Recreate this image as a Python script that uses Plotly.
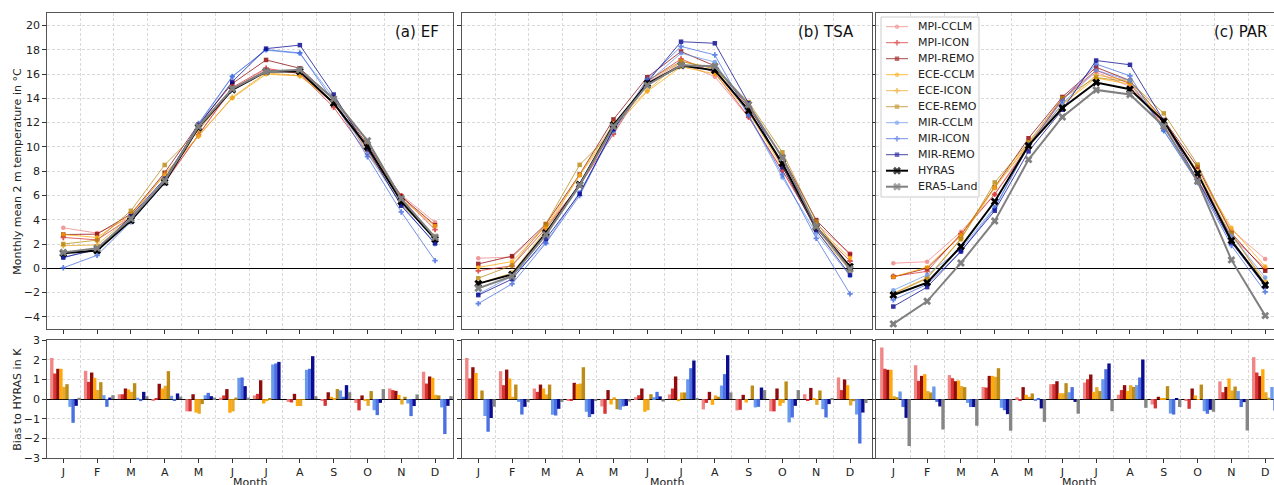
import plotly.graph_objects as go

# ---------------- data ----------------
months = ["J", "F", "M", "A", "M", "J", "J", "A", "S", "O", "N", "D"]
month_num = list(range(1, 13))

model_names = ["MPI-CCLM", "MPI-ICON", "MPI-REMO",
               "ECE-CCLM", "ECE-ICON", "ECE-REMO",
               "MIR-CCLM", "MIR-ICON", "MIR-REMO"]

# HYRAS reference (monthly mean 2 m temperature, degC)
hyras_ef = [1.24, 1.46, 3.93, 7.09, 11.6, 14.7, 16.2, 16.2, 13.6, 10.0, 5.5, 2.4]
hyras_tsa = [-1.26, -0.5, 2.9, 6.9, 11.8, 15.2, 16.7, 16.3, 13.0, 8.65, 3.4, 0.14]
hyras_par = [-2.2, -1.18, 1.79, 5.5, 10.1, 13.2, 15.3, 14.75, 12.1, 7.8, 2.28, -1.37]

# Bias to HYRAS (K) per model, region EF
bias_ef = {
    "MPI-CCLM": [2.09, 1.44, 0.25, -0.08, -0.62, 0.08, 0.19, -0.14, -0.07, -0.19, 0.54, 1.39],
    "MPI-ICON": [1.30, 0.88, 0.25, 0.03, -0.62, 0.19, 0.27, -0.17, -0.34, -0.57, 0.46, 0.79],
    "MPI-REMO": [1.54, 1.35, 0.54, 0.78, 0.25, 0.51, 0.96, 0.27, 0.35, 0.19, 0.42, 1.15],
    "ECE-CCLM": [1.54, 1.08, 0.49, 0.54, -0.68, -0.69, -0.22, -0.35, 0.12, -0.05, 0.22, 1.08],
    "ECE-ICON": [0.62, 0.46, 0.37, 0.68, -0.74, -0.62, -0.10, -0.35, 0.02, -0.34, -0.27, 0.22],
    "ECE-REMO": [0.76, 0.86, 0.81, 1.42, -0.25, 0.08, 0.03, -0.03, 0.51, 0.41, 0.12, 0.19],
    "MIR-CCLM": [-0.39, 0.20, 0.07, 0.17, 0.20, 1.08, 1.76, 1.49, 0.44, -0.56, -0.22, -0.42],
    "MIR-ICON": [-1.20, -0.39, -0.10, -0.07, 0.32, 1.10, 1.81, 1.54, 0.12, -0.81, -0.86, -1.77],
    "MIR-REMO": [-0.34, 0.08, 0.37, 0.29, 0.15, 0.66, 1.89, 2.18, 0.71, -0.19, -0.35, -0.34],
    "ERA5-Land": [0.07, 0.20, 0.15, 0.13, 0.08, 0.08, 0.00, 0.15, 0.35, 0.51, 0.24, 0.15],
}

# Bias to HYRAS (K) per model, region TSA
bias_tsa = {
    "MPI-CCLM": [2.09, 1.42, 0.54, -0.08, -0.37, 0.10, 0.24, -0.52, -0.57, -0.62, 0.25, 1.10],
    "MPI-ICON": [1.05, 0.71, 0.37, -0.07, -0.74, 0.20, 0.54, -0.19, -0.54, -0.62, -0.07, 0.46],
    "MPI-REMO": [1.62, 1.50, 0.74, 0.83, 0.46, 0.54, 1.15, 0.37, 0.22, 0.54, 0.57, 1.00],
    "ECE-CCLM": [1.33, 1.05, 0.54, 0.76, -0.27, -0.64, -0.10, -0.29, -0.17, -0.34, 0.05, 0.71],
    "ECE-ICON": [0.00, 0.12, 0.24, 0.79, 0.10, -0.56, 0.34, 0.19, 0.00, -0.19, -0.29, -0.32],
    "ECE-REMO": [0.44, 0.74, 0.74, 1.62, -0.51, 0.25, 0.34, 0.12, 0.69, 0.90, 0.44, -0.10],
    "MIR-CCLM": [-0.86, -0.14, -0.79, -0.64, -0.54, 0.10, 1.01, 0.69, -0.42, -1.18, -0.51, -0.78],
    "MIR-ICON": [-1.65, -0.78, -0.83, -0.91, -0.37, 0.37, 1.57, 1.27, -0.39, -0.93, -0.93, -2.25],
    "MIR-REMO": [-0.95, -0.39, -0.49, -0.76, -0.34, 0.14, 1.96, 2.23, 0.59, -0.34, -0.25, -0.68],
    "ERA5-Land": [-0.39, -0.15, -0.14, -0.07, -0.12, -0.12, 0.03, 0.34, 0.46, 0.46, 0.05, -0.20],
}

# Bias to HYRAS (K) per model, region PAR
bias_par = {
    "MPI-CCLM": [2.62, 1.72, 1.22, 0.62, 0.10, 0.76, 0.84, 0.22, -0.27, -0.05, 0.90, 2.13],
    "MPI-ICON": [1.54, 0.93, 1.06, 0.59, -0.08, 0.76, 1.01, 0.46, -0.47, -0.49, 0.35, 1.35],
    "MPI-REMO": [1.49, 1.18, 0.91, 1.18, 0.61, 0.91, 1.25, 0.71, 0.12, 0.54, 0.62, 1.17],
    "ECE-CCLM": [1.49, 1.27, 0.95, 1.18, 0.22, 0.30, 0.37, 0.42, 0.03, 0.19, 1.05, 1.52],
    "ECE-ICON": [0.15, 0.41, 0.66, 1.13, 0.12, 0.30, 0.61, 0.71, 0.03, -0.02, 0.44, 0.35],
    "ECE-REMO": [0.10, 0.34, 0.61, 1.57, 0.29, 0.81, 0.41, 0.62, 0.66, 0.74, 0.64, 0.07],
    "MIR-CCLM": [0.39, 0.64, -0.19, -0.44, -0.05, 0.35, 1.01, 0.71, -0.73, -0.61, 0.41, 0.62],
    "MIR-ICON": [-0.40, -0.14, -0.40, -0.56, 0.05, 0.61, 1.52, 1.10, -0.78, -0.74, -0.40, -0.57],
    "MIR-REMO": [-0.95, -0.37, -0.40, -0.76, -0.47, -0.14, 1.81, 2.01, 0.05, -0.54, -0.15, -0.13],
    "ERA5-Land": [-2.38, -1.54, -1.35, -1.60, -1.15, -0.74, -0.61, -0.44, -0.40, -0.64, -1.59, -2.53],
}

panel_titles = ["(a) EF", "(b) TSA", "(c) PAR"]
legend_names = model_names + ["HYRAS", "ERA5-Land"]

# ---------------- style ----------------
colors = {
    "MPI-CCLM": "#F08080", "MPI-ICON": "#D62A2A", "MPI-REMO": "#8B0000",
    "ECE-CCLM": "#FFA500", "ECE-ICON": "#E8A520", "ECE-REMO": "#B8860B",
    "MIR-CCLM": "#6495ED", "MIR-ICON": "#4169E1", "MIR-REMO": "#00008B",
    "ERA5-Land": "#808080", "HYRAS": "#000000",
}
symbols = {"CCLM": "circle", "ICON": "cross", "REMO": "square"}

W, H = 1274, 485
FONT = "DejaVu Sans"


def px_x(p):
    return p / W


def px_y(p):
    return 1 - p / H


x_dom = [(46.7, 453.3), (461.7, 872.3), (876.0, 1274.0)]
x_rng = [(0.509, 12.54), (0.509, 12.66), (0.488, 12.26)]
top_dom = (px_y(329.0), px_y(13.3))
bot_dom = (px_y(458.3), px_y(340.0))
title_right = [440.5, 856.0, 1270.0]

fig = go.Figure()

hyras_list = [hyras_ef, hyras_tsa, hyras_par]
bias_list = [bias_ef, bias_tsa, bias_par]

for p in range(3):
    xt = "x" if p == 0 else f"x{p + 1}"
    yt = "y" if p == 0 else f"y{p + 1}"
    xb = f"x{p + 4}"
    yb = f"y{p + 4}"
    hy = hyras_list[p]
    bias = bias_list[p]
    for name in model_names:
        vals = [round(h + b, 3) for h, b in zip(hy, bias[name])]
        fig.add_trace(go.Scatter(
            x=month_num, y=vals, mode="lines+markers", name=name,
            line=dict(color=colors[name], width=0.9),
            marker=dict(symbol=symbols[name.split("-")[1]], size=4.5,
                        color=colors[name], line=dict(width=0)),
            opacity=0.8, showlegend=False, xaxis=xt, yaxis=yt))
    fig.add_trace(go.Scatter(
        x=month_num, y=hy, mode="lines+markers", name="HYRAS",
        line=dict(color=colors["HYRAS"], width=2),
        marker=dict(symbol="x", size=7, color=colors["HYRAS"]),
        showlegend=False, xaxis=xt, yaxis=yt))
    era = [round(h + b, 3) for h, b in zip(hy, bias["ERA5-Land"])]
    fig.add_trace(go.Scatter(
        x=month_num, y=era, mode="lines+markers", name="ERA5-Land",
        line=dict(color=colors["ERA5-Land"], width=2),
        marker=dict(symbol="x", size=7, color=colors["ERA5-Land"]),
        showlegend=False, xaxis=xt, yaxis=yt))
    for i, name in enumerate(model_names + ["ERA5-Land"]):
        off = -0.34 + 0.09 * i
        fig.add_trace(go.Bar(
            x=[m + off for m in month_num], y=bias[name], width=0.1,
            marker=dict(color=colors[name], line=dict(width=0)),
            opacity=0.95, showlegend=False, name=name,
            xaxis=xb, yaxis=yb))

# ---------------- hand-made legend on a transparent pixel overlay ----------------
leg_x0, leg_y0, leg_x1, leg_y1 = 881, 17, 979, 197
leg_first, leg_step = 26.7, 16.0
fig.add_trace(go.Scatter(
    x=[leg_x0, leg_x1, leg_x1, leg_x0, leg_x0], y=[leg_y0, leg_y0, leg_y1, leg_y1, leg_y0],
    mode="lines", fill="toself", fillcolor="rgba(255,255,255,0.85)",
    line=dict(color="#CCCCCC", width=1), showlegend=False, hoverinfo="skip",
    xaxis="x7", yaxis="y7"))
for i, name in enumerate(legend_names):
    yy = leg_first + leg_step * i
    is_ref = name in ("HYRAS", "ERA5-Land")
    sym = "x" if is_ref else symbols[name.split("-")[1]]
    fig.add_trace(go.Scatter(
        x=[886, 897, 908], y=[yy, yy, yy], mode="lines+markers",
        line=dict(color=colors[name], width=2 if is_ref else 0.9),
        marker=dict(symbol=sym, size=[0, 7 if is_ref else 4.5, 0],
                    color=colors[name], line=dict(width=0)),
        opacity=1 if is_ref else 0.8, showlegend=False, hoverinfo="skip",
        xaxis="x7", yaxis="y7"))

axis_common = dict(showline=True, linecolor="#555555", linewidth=1,
                   ticks="outside", ticklen=3.5, tickwidth=0.8, tickcolor="#333333",
                   automargin=False,
                   tickfont=dict(family=FONT, size=11, color="#222222"))
grid_common = dict(showgrid=True, gridcolor="#D9D9D9", gridwidth=0.7, griddash="3px,2px")
minor_grid = dict(tickvals=[m + 0.5 for m in month_num[:-1]], showgrid=True,
                  gridcolor="#D9D9D9", gridwidth=0.7, griddash="3px,2px", ticks="")

layout = dict(
    width=W, height=H, margin=dict(l=0, r=0, t=0, b=0, pad=0, autoexpand=False),
    paper_bgcolor="white", plot_bgcolor="rgba(0,0,0,0)",
    barmode="overlay", font=dict(family=FONT, size=11, color="#222222"),
    showlegend=False,
    xaxis7=dict(domain=[0, 1], range=[0, W], visible=False, fixedrange=True,
                anchor="y7", automargin=False, showgrid=False, zeroline=False),
    yaxis7=dict(domain=[0, 1], range=[H, 0], visible=False, fixedrange=True,
                anchor="x7", automargin=False, showgrid=False, zeroline=False),
)

for p in range(3):
    xs = "xaxis" if p == 0 else f"xaxis{p + 1}"
    ys = "yaxis" if p == 0 else f"yaxis{p + 1}"
    xsb = f"xaxis{p + 4}"
    ysb = f"yaxis{p + 4}"
    anc_t = "y" if p == 0 else f"y{p + 1}"
    anc_tx = "x" if p == 0 else f"x{p + 1}"
    dom = [px_x(x_dom[p][0]), px_x(x_dom[p][1])]
    mirror_y = p < 2
    layout[xs] = dict(domain=dom, range=list(x_rng[p]), anchor=anc_t,
                      tickvals=month_num, showticklabels=False, showgrid=False,
                      zeroline=False, mirror=True, minor=minor_grid, **axis_common)
    layout[ys] = dict(domain=list(top_dom), range=[-5, 21], anchor=anc_tx,
                      tickvals=list(range(-4, 21, 2)),
                      ticktext=[str(v).replace("-", "\u2212") for v in range(-4, 21, 2)],
                      showticklabels=(p == 0), zeroline=True, zerolinecolor="#000000",
                      zerolinewidth=1, mirror=mirror_y, **grid_common, **axis_common)
    layout[xsb] = dict(domain=dom, range=list(x_rng[p]), anchor=f"y{p + 4}",
                       tickvals=month_num, ticktext=months, showticklabels=True,
                       showgrid=False, zeroline=False, mirror=True, minor=minor_grid,
                       **axis_common)
    layout[ysb] = dict(domain=list(bot_dom), range=[-3, 3], anchor=f"x{p + 4}",
                       tickvals=list(range(-3, 4)),
                       ticktext=[str(v).replace("-", "\u2212") for v in range(-3, 4)],
                       showticklabels=(p == 0), zeroline=True, zerolinecolor="#000000",
                       zerolinewidth=1, mirror=mirror_y, **grid_common, **axis_common)

fig.update_layout(**layout)

annotations = []
for i, name in enumerate(legend_names):
    yy = leg_first + leg_step * i
    annotations.append(dict(text=name, xref="paper", yref="paper",
                            x=px_x(916), y=px_y(yy), xanchor="left", yanchor="middle",
                            showarrow=False,
                            font=dict(family=FONT, size=11, color="#222222")))
for p in range(3):
    annotations.append(dict(text=panel_titles[p], xref="paper", yref="paper",
                            x=px_x(title_right[p]), y=px_y(32), xanchor="right",
                            yanchor="middle", showarrow=False,
                            font=dict(family=FONT, size=15, color="#111111")))
    cx = (x_dom[p][0] + (x_dom[p][1] if p < 2 else 1283.0)) / 2
    annotations.append(dict(text="Month", xref="paper", yref="paper",
                            x=px_x(cx), y=px_y(482.8), xanchor="center", yanchor="middle",
                            showarrow=False, font=dict(family=FONT, size=11, color="#222222")))
annotations.append(dict(text="Monthly mean 2 m temperature in \u00b0C", xref="paper",
                        yref="paper", x=px_x(16.7), y=px_y(171), textangle=-90,
                        xanchor="center", yanchor="middle", showarrow=False,
                        font=dict(family=FONT, size=11, color="#222222")))
annotations.append(dict(text="Bias to HYRAS in K", xref="paper", yref="paper",
                        x=px_x(16.7), y=px_y(399), textangle=-90,
                        xanchor="center", yanchor="middle", showarrow=False,
                        font=dict(family=FONT, size=11, color="#222222")))
fig.update_layout(annotations=annotations)

fig.write_html("out.html")
